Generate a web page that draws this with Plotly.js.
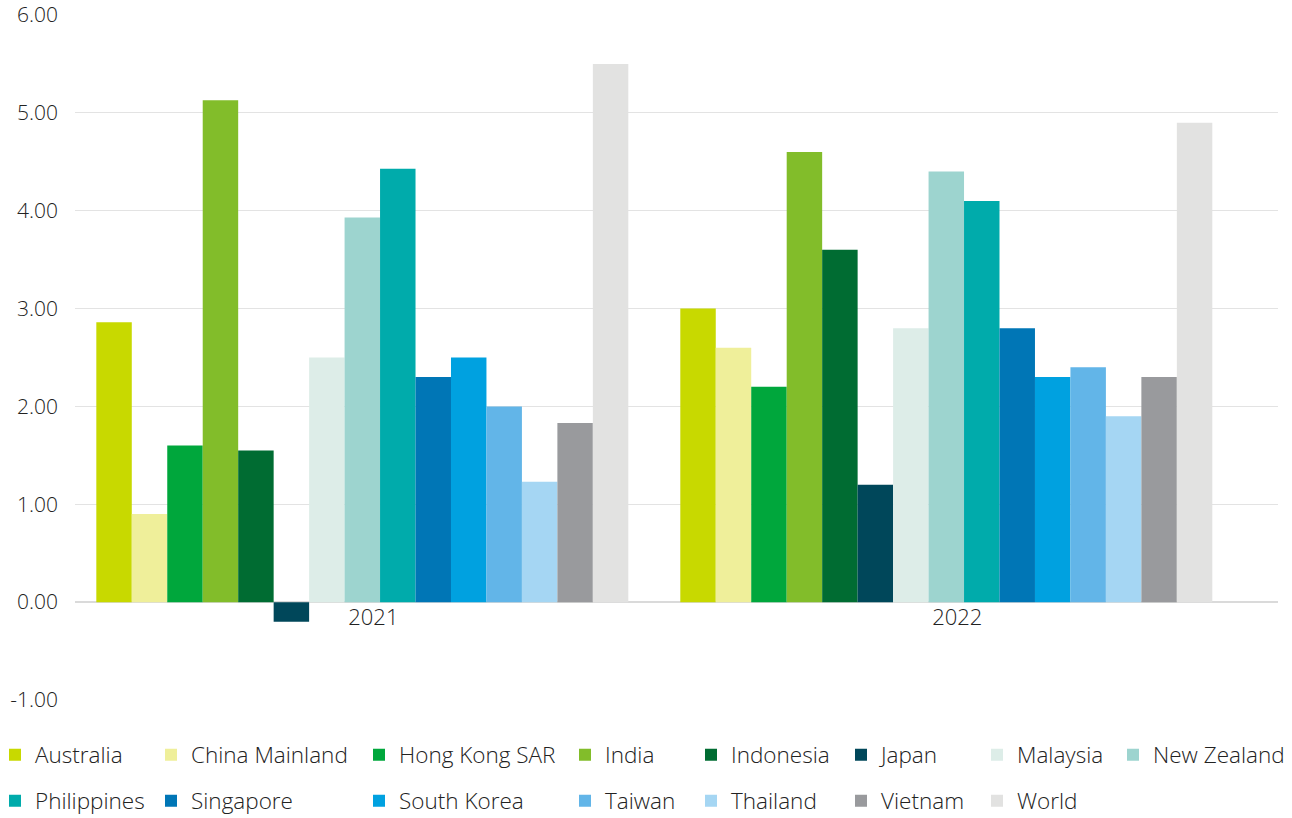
<!DOCTYPE html>
<html>
<head>
<meta charset="utf-8">
<script src="https://cdn.plot.ly/plotly-3.0.1.min.js"></script>
<style>html,body{margin:0;padding:0;background:#fff;}#chart{width:1292px;height:818px;}</style>
</head>
<body>
<div id="chart"></div>
<script>
const categories = ['2021', '2022'];
const countries = ['Australia', 'China Mainland', 'Hong Kong SAR', 'India', 'Indonesia', 'Japan', 'Malaysia', 'New Zealand',
  'Philippines', 'Singapore', 'South Korea', 'Taiwan', 'Thailand', 'Vietnam', 'World'];
const values2021 = [2.86, 0.90, 1.60, 5.13, 1.55, -0.20, 2.50, 3.93, 4.43, 2.30, 2.50, 2.00, 1.23, 1.83, 5.50];
const values2022 = [3.00, 2.60, 2.20, 4.60, 3.60, 1.20, 2.80, 4.40, 4.10, 2.80, 2.30, 2.40, 1.90, 2.30, 4.90];
const yTickVals = [-1, 0, 1, 2, 3, 4, 5, 6];
const yTickText = ['-1.00', '0.00', '1.00', '2.00', '3.00', '4.00', '5.00', '6.00'];

const colors = ['#c8d900', '#efef9a', '#00a73c', '#82bd2a', '#006c32', '#00475a', '#ddede8', '#9dd4cf',
  '#00abab', '#0076b6', '#00a1e0', '#62b5e8', '#a5d6f3', '#999a9d', '#e2e2e1'];

const FONT = {family: '"Open Sans", "Noto Sans", sans-serif', size: 22.5, color: '#222222', weight: 300};
const XFONT = {family: '"Open Sans", "Noto Sans", sans-serif', size: 22, color: '#222222', weight: 300};
const YFONT = {family: '"Open Sans", "Noto Sans", sans-serif', size: 21, color: '#222222', weight: 300};

// legend text start positions (px) per column and row centres (px)
const legendTextX = [35, 191, 399, 605, 731, 881, 1017, 1153];
const legendRowY = [755, 801];
const W = 1292, H = 818;
const PL = 75, PR = 14, PT = 15, PB = 118;
const PW = W - PL - PR, PH = H - PT - PB;

const traces = countries.map((c, i) => ({
  type: 'bar',
  name: c,
  x: categories,
  y: [values2021[i], values2022[i]],
  marker: {color: colors[i], line: {width: 0}},
  legend: i === 0 ? 'legend' : 'legend' + (i + 1),
  showlegend: true,
  hoverinfo: 'name+y'
}));

const layout = {
  width: W, height: H,
  showlegend: true,
  margin: {l: PL, r: PR, t: PT, b: PB, autoexpand: false},
  paper_bgcolor: '#ffffff',
  plot_bgcolor: '#ffffff',
  font: FONT,
  barmode: 'group',
  bargap: 0.089,
  bargroupgap: 0,
  xaxis: {
    type: 'category',
    range: [-0.492, 1.568],
    anchor: 'free',
    position: 1 / 7,
    showgrid: false,
    showline: false,
    zeroline: false,
    ticks: '',
    ticklabelshift: 11,
    tickfont: XFONT
  },
  yaxis: {
    range: [-1, 6],
    tickvals: yTickVals,
    ticktext: yTickText,
    showgrid: true,
    gridcolor: '#e3e3e3',
    gridwidth: 1,
    zeroline: true,
    zerolinecolor: '#dadada',
    zerolinewidth: 2,
    showline: false,
    ticks: '',
    ticklabelstandoff: 16,
    tickfont: YFONT
  }
};

countries.forEach((c, i) => {
  const col = i % 8, row = Math.floor(i / 8);
  const key = i === 0 ? 'legend' : 'legend' + (i + 1);
  layout[key] = {
    xref: 'paper', yref: 'paper',
    x: (legendTextX[col] - 40 - PL) / PW,
    xanchor: 'left',
    y: (H - PB - legendRowY[row]) / PH,
    yanchor: 'middle',
    orientation: 'v',
    bgcolor: 'rgba(0,0,0,0)',
    borderwidth: 0,
    itemwidth: 30,
    font: FONT
  };
});

Plotly.newPlot('chart', traces, layout, {displayModeBar: false, responsive: false});
</script>
</body>
</html>
